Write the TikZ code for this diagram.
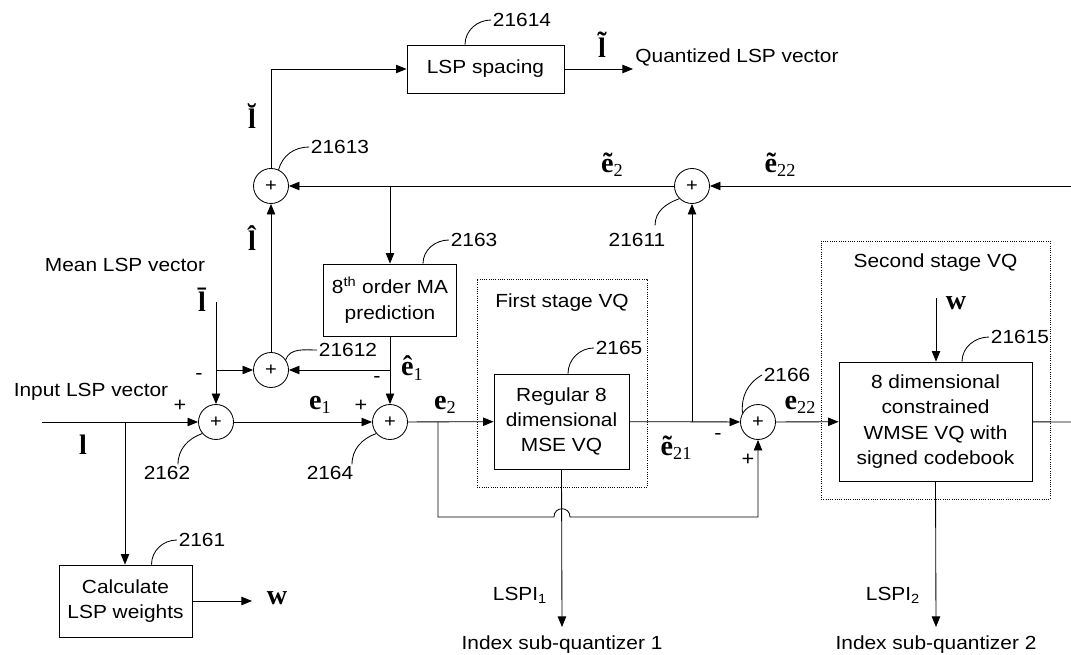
\documentclass[tikz,border=0pt]{standalone}
\usepackage{fontspec}
\setmainfont[FakeStretch=1.1]{Liberation Sans}
\newfontfamily\symfont{Liberation Serif}
\usetikzlibrary{arrows.meta,calc,positioning}
\def\px{0.025cm}
\newcommand{\lspsym}[2]{{\symfont\bfseries\fontsize{20}{20}\selectfont #1}{\symfont\fontsize{13}{13}\selectfont\raisebox{-0.5ex}{#2}}}

\begin{document}
\begin{tikzpicture}[x=\px,y=-\px,line width=0.6pt,
  font=\fontsize{13.5}{18}\selectfont,
  sumnode/.style={circle,draw,minimum size=35*\px,inner sep=0pt,font=\fontsize{13}{13}\selectfont},
  block/.style={draw,align=center,inner sep=0pt},
  stagebox/.style={draw,densely dotted,inner sep=0pt},
  sig/.style={-{Triangle[length=7.5pt,width=6pt]}},
  refnum/.style={inner sep=1pt},
  sign/.style={inner sep=0pt,font=\fontsize{14}{14}\selectfont}]
  \useasboundingbox (0,0) rectangle (1071,655);

  % stage boxes
  \node[stagebox,minimum width=170*\px,minimum height=208*\px] (stage1) at (562,383) {};
  \node[stagebox,minimum width=229*\px,minimum height=258*\px] (stage2) at (935.5,370) {};
  \node (stage1-text) at (562,303) {First stage VQ};
  \node (stage2-text) at (935.5,263) {Second stage VQ};

  % blocks
  \node[block,minimum width=157*\px,minimum height=48*\px] (spacing) at (485.5,69) {LSP spacing};
  \node[block,minimum width=133*\px,minimum height=72*\px] (ma) at (390,300) {8\textsuperscript{th} order MA\\prediction};
  \node[block,minimum width=133*\px,minimum height=72*\px] (calc) at (125.5,601) {Calculate\\LSP weights};
  \node[block,minimum width=135*\px,minimum height=95*\px] (regular) at (561.5,421.5) {Regular 8\\dimensional\\MSE VQ};
  \node[block,minimum width=193*\px,minimum height=119*\px] (second) at (935.5,421.5) {8 dimensional\\constrained\\WMSE VQ with\\signed codebook};

  % adders
  \node[sumnode] (s21613) at (271,186) {+};
  \node[sumnode] (s21611) at (692,186) {+};
  \node[sumnode] (s21612) at (271,370) {+};
  \node[sumnode] (s2162) at (216,422) {+};
  \node[sumnode] (s2164) at (390,422) {+};
  \node[sumnode] (s2166) at (758,422) {+};

  % free ends and branch points
  \coordinate (inL) at (42,422);
  \coordinate (brL) at (125,422);
  \coordinate (lbarS) at (216,302);
  \coordinate (brLbar) at (216,370);
  \coordinate (brMA) at (390,370);
  \coordinate (brTop) at (390,186);
  \coordinate (brE2) at (438,422);
  \coordinate (brE21) at (692,422);
  \coordinate (jump) at (562,517);
  \coordinate (rEdgeTop) at (1071,186);
  \coordinate (rEdgeOut) at (1071,422);
  \coordinate (qOut) at (633,69);
  \coordinate (wOut) at (252,601);
  \coordinate (wIn) at (936,298);
  \coordinate (idx1) at (562,627);
  \coordinate (idx2) at (936,627);

  % signal paths
  \draw[sig] (inL) -- (s2162);
  \draw[sig] (lbarS) -- (s2162);
  \draw[sig] (brLbar) -- (s21612);
  \draw[sig] (brMA) -- (s21612);
  \draw[sig] (ma.south) -- (s2164.north);
  \draw[sig] (s2162) -- (s2164);
  \draw[sig] (s2164) -- (regular);
  \draw[sig] (regular) -- (s2166);
  \draw[sig] (s2166) -- (second);
  \draw (second) -- (rEdgeOut);
  \draw[sig] (brE21) -- (s21611);
  \draw[sig] (rEdgeTop) -- (s21611);
  \draw[sig] (s21611) -- (s21613);
  \draw[sig] (brTop) -- (ma.north);
  \draw[sig] (s21612) -- (s21613);
  \draw[sig] (s21613.north) |- (spacing.west);
  \draw[sig] (spacing) -- (qOut);
  \draw[sig] (brL) -- (brL |- calc.north);
  \draw[sig] (calc) -- (wOut);
  \draw[sig] (wIn) -- (wIn |- second.north);
  \draw[sig] (regular.south) -- (idx1);
  \draw[sig] (second.south) -- (idx2);
  \draw[sig] (brE2) |- ($(jump)+(-8,0)$) .. controls ($(jump)+(-8,-11)$) and ($(jump)+(8,-11)$) .. ($(jump)+(8,0)$) -| (s2166.south);

  % reference numbers
  \node[refnum] (r21614) at (522,20) {21614};
  \node[refnum] (r21613) at (340,147) {21613};
  \node[refnum] (r21611) at (637,240) {21611};
  \node[refnum] (r2163) at (474,240) {2163};
  \node[refnum] (r21612) at (348,350) {21612};
  \node[refnum] (r2165) at (619,348) {2165};
  \node[refnum] (r2166) at (787,375) {2166};
  \node[refnum] (r21615) at (1020,337) {21615};
  \node[refnum] (r2162) at (167,473) {2162};
  \node[refnum] (r2164) at (330,473) {2164};
  \node[refnum] (r2161) at (202,540) {2161};

  \draw (r21614.west) to[out=180,in=90] ($(spacing.north)+(-20.5,0)$);
  \draw (r21613.west) to[out=180,in=75] (s21613.65);
  \draw ($(r21611.north)+(18,-6)$) to[out=90,in=200] (s21611.225);
  \draw (r2163.west) to[out=180,in=90] ($(ma.north)+(33,0)$);
  \draw (s21612.35) to[out=70,in=180] (r21612.west);
  \draw (r2165.west) to[out=180,in=90] ($(regular.north)+(6.5,0)$);
  \draw (s2166.150) to[out=95,in=210] (r2166.west);
  \draw (r21615.west) to[out=180,in=90] ($(second.north)+(26.5,0)$);
  \draw ($(r2162.north)+(11,0)$) to[out=90,in=200] (s2162.220);
  \draw ($(r2164.north)+(22,0)$) to[out=90,in=200] (s2164.220);
  \draw (r2161.west) to[out=180,in=90] ($(calc.north)+(26,0)$);

  % texts
  \node (quant-text) at (737,57) {Quantized LSP vector};
  \node (mean-text) at (125,265) {Mean LSP vector};
  \node (input-text) at (91,392) {Input LSP vector};
  \node (idx1-text) at (562,645) {Index sub-quantizer 1};
  \node (idx2-text) at (936,645) {Index sub-quantizer 2};
  \node (lspi1) at (520,595) {LSPI\textsubscript{1}};
  \node (lspi2) at (893,595) {LSPI\textsubscript{2}};

  % vector symbols
  \node (lbreve) at (252,118) {\lspsym{\u{l}}{}};
  \node (lhat) at (252,240) {\lspsym{\^{l}}{}};
  \node (ltilde) at (602,47) {\lspsym{\~{l}}{}};
  \node (etilde2) at (612,165) {\lspsym{\~{e}}{2}};
  \node (etilde22) at (780,165) {\lspsym{\~{e}}{22}};
  \node (lbar) at (202,302) {\lspsym{\={l}}{}};
  \node (ehat1) at (412,368) {\lspsym{\^{e}}{1}};
  \node (e1) at (320,405) {\lspsym{e}{1}};
  \node (e2) at (445,405) {\lspsym{e}{2}};
  \node (etilde21) at (676,448) {\lspsym{\~{e}}{21}};
  \node (e22) at (800,405) {\lspsym{e}{22}};
  \node (lin) at (83,447) {\lspsym{l}{}};
  \node (wcalc) at (277,600) {\lspsym{w}{}};
  \node (wvq) at (956,305) {\lspsym{w}{}};

  % signs
  \node[sign] (m2162) at (199,377) {-};
  \node[sign] (p2162) at (180,406) {+};
  \node[sign] (m2164) at (377,380) {-};
  \node[sign] (p2164) at (361,406) {+};
  \node[sign] (m2166) at (718,437) {-};
  \node[sign] (p2166) at (748,460) {+};
\end{tikzpicture}
\end{document}
